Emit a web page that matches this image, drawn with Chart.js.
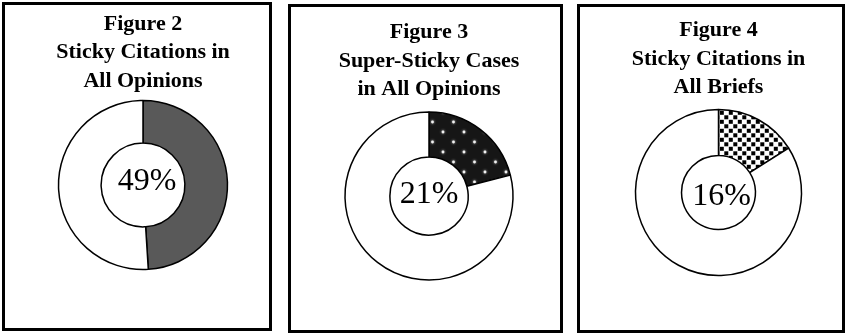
<!DOCTYPE html>
<html>
<head>
<meta charset="utf-8">
<script src="https://cdn.jsdelivr.net/npm/chart.js@4/dist/chart.umd.min.js"></script>
<style>
  html, body { margin: 0; padding: 0; background: #fff; }
  body { width: 848px; height: 333px; position: relative; overflow: hidden; }
  .panel { position: absolute; box-sizing: border-box; border: 3px solid #000; background: #fff; }
  .panel canvas { position: absolute; left: 0; top: 0; }
</style>
</head>
<body>
<div class="panel" style="left:2px;top:2px;width:270px;height:329px"><canvas id="fig2" width="264" height="323"></canvas></div>
<div class="panel" style="left:288px;top:4px;width:275px;height:329px"><canvas id="fig3" width="269" height="323"></canvas></div>
<div class="panel" style="left:577px;top:4px;width:268px;height:329px"><canvas id="fig4" width="262" height="323"></canvas></div>
<script>
// Titles of the three figures
const figureTitles = [
  ['Figure 2', 'Sticky Citations in', 'All Opinions'],
  ['Figure 3', 'Super-Sticky Cases', 'in All Opinions'],
  ['Figure 4', 'Sticky Citations in', 'All Briefs']
];
// Share (percent) shown as the highlighted slice of each ring
const stickyShares = [49, 21, 16];
const sliceLabels = ['Sticky', 'Other'];

// ---- fills for the highlighted slices ----
function makeTile(w, h, paint) {
  const c = document.createElement('canvas');
  c.width = w; c.height = h;
  paint(c.getContext('2d'), w, h);
  return c;
}
const probe = document.createElement('canvas').getContext('2d');

const solidGray = '#595959';

const starDots = probe.createPattern(makeTile(21, 20, (g, w, h) => {
  g.fillStyle = '#161616';
  g.fillRect(0, 0, w, h);
  g.fillStyle = '#f2f2f2';
  g.shadowColor = 'rgba(230,230,230,1)';
  g.shadowBlur = 2.5;
  [[5, 5], [15.5, 15]].forEach(([x, y]) => {
    g.beginPath(); g.arc(x, y, 1.4, 0, Math.PI * 2); g.fill();
  });
}), 'repeat');

const checkDots = probe.createPattern(makeTile(9, 9, (g, w, h) => {
  g.fillStyle = '#ffffff';
  g.fillRect(0, 0, w, h);
  g.filter = 'blur(0.45px)';
  g.fillStyle = '#000000';
  g.fillRect(0.3, 0.3, 4, 4);
  g.fillRect(4.8, 4.8, 4, 4);
}), 'repeat');

const sliceFills = [solidGray, starDots, checkDots];

// geometry of each ring and its frame
const ringOuter = [84.5, 84, 83];
const ringInner = [44, 42.5, 40];
const titleTopPad = [4.7, 11.2, 9.2];
const framePadding = [
  { left: 12, right: 0, top: 0, bottom: 53.5 },
  { left: 7, right: 0, top: 0, bottom: 42 },
  { left: 15, right: 0, top: 0, bottom: 47 }
];
const labelShift = [[4, -3], [0, -1], [3, 4]];

// writes the percentage in the hole of the ring
const centerLabel = {
  id: 'centerLabel',
  afterDatasetsDraw(chart, args, opts) {
    const arc = chart.getDatasetMeta(0).data[0];
    if (!arc) return;
    const value = chart.data.datasets[0].data[0];
    const ctx = chart.ctx;
    ctx.save();
    ctx.font = "32px 'Liberation Serif', serif";
    ctx.fillStyle = '#000';
    ctx.textAlign = 'center';
    ctx.textBaseline = 'middle';
    ctx.fillText(value + '%', arc.x + opts.dx, arc.y + opts.dy);
    ctx.restore();
  }
};

['fig2', 'fig3', 'fig4'].forEach((id, i) => {
  new Chart(document.getElementById(id), {
    type: 'doughnut',
    data: {
      labels: sliceLabels,
      datasets: [{
        data: [stickyShares[i], 100 - stickyShares[i]],
        backgroundColor: [sliceFills[i], '#ffffff'],
        borderColor: '#000000',
        borderWidth: 1.5,
        radius: ringOuter[i],
        cutout: ringInner[i]
      }]
    },
    options: {
      responsive: false,
      devicePixelRatio: 1,
      animation: false,
      events: [],
      layout: { padding: framePadding[i] },
      plugins: {
        legend: { display: false },
        tooltip: { enabled: false },
        title: {
          display: true,
          text: figureTitles[i],
          color: '#000',
          font: { family: "'Liberation Serif', serif", size: 22, weight: 'bold', lineHeight: 1.3 },
          padding: { top: titleTopPad[i], bottom: 0 }
        },
        centerLabel: { dx: labelShift[i][0], dy: labelShift[i][1] }
      }
    },
    plugins: [centerLabel]
  });
});
</script>
</body>
</html>
